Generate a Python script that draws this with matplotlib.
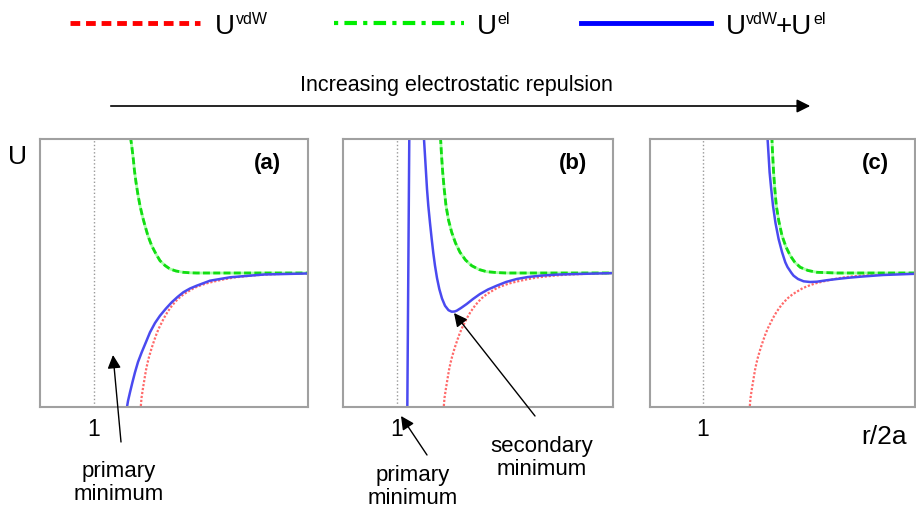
import matplotlib.pyplot as plt

plt.rcParams['font.family'] = ['Liberation Sans', 'DejaVu Sans']

# van der Waals attraction (same curve in all three panels)
vdw_x = [1.465, 1.475, 1.49, 1.505, 1.52, 1.535, 1.55, 1.575, 1.60, 1.625, 1.65, 1.675, 1.70, 1.735,
         1.77, 1.81, 1.85, 1.90, 1.95, 2.0, 2.05, 2.12, 2.20, 2.30, 2.40, 2.55, 2.70, 2.95, 3.20]
vdw_u = [-1.37, -1.25, -1.15, -1.06, -0.97, -0.90, -0.84, -0.755, -0.68, -0.61, -0.55, -0.50, -0.45, -0.39,
         -0.34, -0.29, -0.25, -0.21, -0.18, -0.15, -0.13, -0.105, -0.085, -0.063, -0.045, -0.028, -0.016,
         -0.006, -0.002]

# panel (a): weak electrostatic repulsion
a_el_x = [1.365, 1.38, 1.393, 1.405, 1.42, 1.44, 1.46, 1.485, 1.51, 1.54, 1.577, 1.62, 1.66, 1.71,
          1.76, 1.82, 1.893, 1.96, 2.027, 3.20]
a_el_u = [1.36, 1.25, 1.14, 1.02, 0.907, 0.78, 0.673, 0.565, 0.473, 0.37, 0.273, 0.19, 0.123, 0.075,
          0.04, 0.02, 0.007, 0.002, 0.0, 0.0]
a_tot_x = [1.325, 1.34, 1.36, 1.385, 1.41, 1.44, 1.477, 1.52, 1.56, 1.61, 1.66, 1.72, 1.777, 1.835,
           1.893, 1.96, 2.027, 2.16, 2.36, 2.70, 3.20]
a_tot_u = [-1.37, -1.28, -1.193, -1.09, -0.993, -0.89, -0.793, -0.69, -0.593, -0.50, -0.427, -0.355,
           -0.293, -0.24, -0.193, -0.155, -0.127, -0.077, -0.043, -0.015, -0.003]

# panel (b): intermediate repulsion, primary + secondary minimum
b_el_x = [1.435, 1.445, 1.457, 1.472, 1.49, 1.515, 1.547, 1.585, 1.63, 1.685, 1.747, 1.82, 1.897,
          2.0, 2.097, 3.20]
b_el_u = [1.36, 1.18, 1.007, 0.84, 0.673, 0.53, 0.407, 0.30, 0.207, 0.13, 0.073, 0.035, 0.013,
          0.004, 0.0, 0.0]
b_prim_x = [1.103, 1.113, 1.123]
b_prim_u = [-1.37, 0.007, 1.37]
b_tot_x = [1.268, 1.279, 1.29, 1.30, 1.313, 1.33, 1.347, 1.363, 1.38, 1.40, 1.423, 1.45, 1.48, 1.515,
           1.547, 1.575, 1.597, 1.64, 1.697, 1.76, 1.83, 1.91, 1.997, 2.09, 2.197, 2.31, 2.43, 2.6,
           2.8, 3.20]
b_tot_u = [1.37, 1.19, 1.007, 0.84, 0.673, 0.50, 0.34, 0.20, 0.073, -0.05, -0.16, -0.255, -0.327,
           -0.372, -0.387, -0.385, -0.377, -0.35, -0.31, -0.26, -0.21, -0.165, -0.127, -0.09, -0.06,
           -0.04, -0.027, -0.016, -0.01, 0.0]

# panel (c): strong repulsion
c_el_x = [1.688, 1.696, 1.706, 1.718, 1.733, 1.758, 1.79, 1.83, 1.873, 1.92, 1.973, 2.05, 2.14,
          2.34, 3.20]
c_el_u = [1.37, 1.19, 1.007, 0.84, 0.673, 0.52, 0.373, 0.26, 0.173, 0.105, 0.057, 0.025, 0.007,
          0.0, 0.0]
c_tot_x = [1.644, 1.655, 1.666, 1.682, 1.70, 1.725, 1.756, 1.79, 1.823, 1.845, 1.865, 1.885, 1.906,
           1.95, 2.006, 2.07, 2.14, 2.24, 2.34, 2.45, 2.573, 2.80, 3.20]
c_tot_u = [1.37, 1.19, 1.007, 0.84, 0.673, 0.50, 0.34, 0.21, 0.107, 0.06, 0.03, 0.0, -0.027,
           -0.06, -0.083, -0.09, -0.087, -0.072, -0.06, -0.048, -0.037, -0.02, -0.005]

W, H = 916, 508
fig = plt.figure(figsize=(W / 100, H / 100), dpi=100)


def box(left, top, right, bottom):
    return [left / W, 1 - bottom / H, (right - left) / W, (bottom - top) / H]


panels = [
    (box(40, 139, 308, 407), (0.46, 3.14), (a_el_x, a_el_u), [(a_tot_x, a_tot_u)], '(a)'),
    (box(343, 139, 613, 407), (0.46, 3.16), (b_el_x, b_el_u),
     [(b_prim_x, b_prim_u), (b_tot_x, b_tot_u)], '(b)'),
    (box(650, 139, 915, 407), (0.47, 3.12), (c_el_x, c_el_u), [(c_tot_x, c_tot_u)], '(c)'),
]

red = '#ff5050'
green = '#11dd11'
blue = '#4a4af0'

for rect, xlim, el, totals, lab in panels:
    ax = fig.add_axes(rect)
    ax.set_xlim(*xlim)
    ax.set_ylim(-1.34, 1.34)
    ax.axvline(1, color='#999999', ls=':', lw=1)
    ax.plot(vdw_x, vdw_u, color=red, ls=(0, (1, 0.8)), lw=1.6, alpha=0.85)
    ax.plot(el[0], el[1], color='#aaffaa', lw=2)
    ax.plot(el[0], el[1], color=green, ls=(0, (2.5, 1.2)), lw=2)
    for tx, tu in totals:
        ax.plot(tx, tu, color=blue, lw=1.8)
    ax.text(0.85, 0.91, lab, transform=ax.transAxes, ha='center', va='center',
            fontsize=16, fontweight='bold')
    ax.set_xticks([1])
    ax.set_xticklabels(['1'], fontsize=16.5)
    ax.set_yticks([])
    ax.tick_params(length=0, pad=8)
    for s in ax.spines.values():
        s.set_color('#a0a0a0')
        s.set_linewidth(1.5)

# overlay for legend, arrows and labels (pixel coordinates)
ov = fig.add_axes([0, 0, 1, 1], zorder=10)
ov.set_xlim(0, W)
ov.set_ylim(H, 0)
ov.axis('off')
ov.patch.set_alpha(0)

# legend
ov.plot([70, 200], [23, 23], color='#ff0000', lw=3.5, ls=(0, (2, 1.2)))
ov.text(215, 34, 'U', fontsize=20, va='baseline')
ov.text(236, 12, 'vdW', fontsize=11.5, va='top')
ov.plot([334, 464], [23, 23], color='#00ee00', lw=3, ls=(0, (1, 1.5, 3, 1.5)))
ov.text(477, 34, 'U', fontsize=20, va='baseline')
ov.text(497, 12, 'el', fontsize=11.5, va='top')
ov.plot([581, 711], [23, 23], color='#0000ff', lw=3.5)
ov.text(726, 34, 'U', fontsize=20, va='baseline')
ov.text(746, 12, 'vdW', fontsize=11.5, va='top')
ov.text(776, 34, '+U', fontsize=20, va='baseline')
ov.text(813, 12, 'el', fontsize=11.5, va='top')

# big arrow
ov.annotate('', xy=(813, 106), xytext=(108, 106),
            arrowprops=dict(arrowstyle='-|>', color='black', lw=1.2, mutation_scale=20))
ov.text(456, 86, 'Increasing electrostatic repulsion', fontsize=15.5, ha='center', va='center')

ov.text(18, 157, 'U', fontsize=19, ha='center', va='center')
ov.text(884, 437, 'r/2a', fontsize=19, ha='center', va='center')

arrow = dict(arrowstyle='-|>', color='black', lw=1, mutation_scale=20, shrinkA=0, shrinkB=0)
ov.annotate('', xy=(113, 355), xytext=(121, 442), arrowprops=arrow)
ov.text(119, 483, 'primary\nminimum', fontsize=16, ha='center', va='center', linespacing=1.15)
ov.annotate('', xy=(401, 416), xytext=(427, 455), arrowprops=arrow)
ov.text(413, 487, 'primary\nminimum', fontsize=16, ha='center', va='center', linespacing=1.15)
ov.annotate('', xy=(454, 313), xytext=(535, 416), arrowprops=arrow)
ov.text(542, 458, 'secondary\nminimum', fontsize=16, ha='center', va='center', linespacing=1.15)

fig.savefig('out.png', dpi=100)
